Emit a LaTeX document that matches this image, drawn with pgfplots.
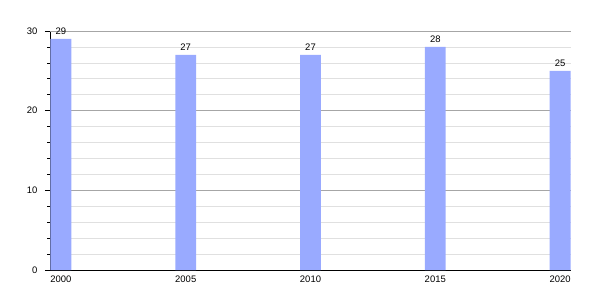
\documentclass[border=0pt]{standalone}
\usepackage{pgfplots}
\pgfplotsset{compat=1.18}
\usepackage{fontspec}
\setmainfont{Liberation Sans}
\definecolor{barblue}{RGB}{153,170,255}
\begin{document}
\begin{tikzpicture}[x=1bp,y=1bp]
\begin{axis}[
  scale only axis,
  width=521bp, height=239bp,
  at={(0,0)}, anchor=south west,
  xmin=-0.088, xmax=4.088,
  ymin=0, ymax=30,
  xtick={0,1,2,3,4},
  xticklabels={2000,2005,2010,2015,2020},
  xtick style={draw=none},
  ytick={0,10,20,30},
  minor ytick={2,4,6,8,12,14,16,18,22,24,26,28},
  ytick align=outside,
  major tick length=5bp,
  minor tick length=2.5bp,
  ytick pos=left,
  axis y line*=left,
  axis x line*=bottom,
  axis line style={black, line width=0.8bp},
  ymajorgrids, yminorgrids,
  major grid style={color=black!35, line width=0.6bp},
  minor grid style={color=black!12, line width=0.6bp},
  tick style={black, line width=0.6bp},
  /pgf/number format/assume math mode=true,
  tick label style={font=\fontsize{9.5}{11}\selectfont},
  yticklabel style={xshift=-4bp},
  xticklabel style={yshift=3bp},
  ybar, bar width=0.168, bar shift=0pt,
  nodes near coords,
  every node near coord/.append style={font=\fontsize{9.5}{11}\selectfont, black, inner sep=1bp, yshift=3bp},
  clip=false,
]
\draw[black!35, line width=0.6bp] (axis cs:-0.088,30) -- (axis cs:4.088,30);
\addplot[fill=barblue, draw=none] coordinates {(0,29) (1,27) (2,27) (3,28) (4,25)};
\end{axis}
\path[use as bounding box] (-50bp,-30bp) rectangle (550bp,270bp);
\end{tikzpicture}
\end{document}
